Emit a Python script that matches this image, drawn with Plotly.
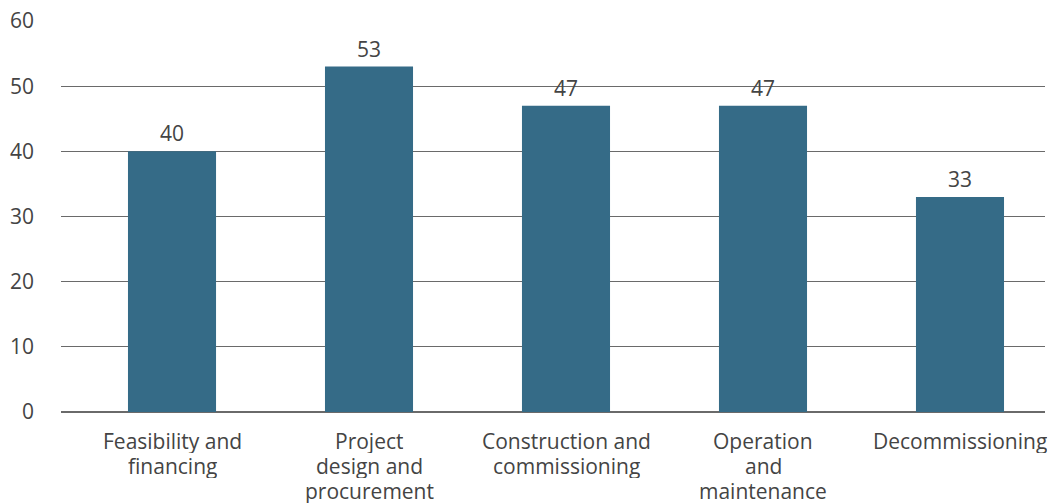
import plotly.graph_objects as go

# Project lifecycle stages and their values
stages = [
    "Feasibility and<br>financing",
    "Project<br>design and<br>procurement",
    "Construction and<br>commissioning",
    "Operation<br>and<br>maintenance",
    "Decommissioning",
]
values = [40, 53, 47, 47, 33]
y_ticks = [0, 10, 20, 30, 40, 50, 60]

BAR_COLOR = "#356b87"
TEXT_COLOR = "#444444"
GRID_COLOR = "#6a6a6a"
FONT = "Open Sans"
LINE_GAP = 25  # pixel spacing between lines of a category label

fig = go.Figure()
fig.add_trace(go.Bar(
    x=list(range(len(stages))),
    y=values,
    marker=dict(color=BAR_COLOR, line=dict(width=0)),
    width=0.447,
    hoverinfo="skip",
))

# value labels above bars
for i, v in enumerate(values):
    fig.add_annotation(
        x=i, y=v, text=str(v), showarrow=False,
        yanchor="bottom", yshift=2,
        font=dict(family=FONT, size=21, color=TEXT_COLOR),
    )

# category labels under the axis, one annotation per line
for i, label in enumerate(stages):
    for k, line in enumerate(label.split("<br>")):
        fig.add_annotation(
            x=i, xref="x", y=0, yref="paper",
            text=line, showarrow=False,
            yanchor="middle", yshift=-29 - k * LINE_GAP,
            height=24, borderpad=0, valign="middle",
            font=dict(family=FONT, size=21, color=TEXT_COLOR),
        )

fig.update_layout(
    width=1049, height=503,
    margin=dict(l=61, r=4, t=21, b=91),
    paper_bgcolor="white", plot_bgcolor="white",
    showlegend=False,
    font=dict(family=FONT, size=21, color=TEXT_COLOR),
    xaxis=dict(
        tickmode="array",
        tickvals=list(range(len(stages))),
        showticklabels=False,
        range=[-0.5635, 4.4315],
        showgrid=False, zeroline=False, showline=False,
        ticks="", automargin=False,
    ),
    yaxis=dict(
        range=[0, 60],
        tickmode="array", tickvals=y_ticks,
        showgrid=True, gridcolor=GRID_COLOR, gridwidth=1,
        zeroline=True, zerolinecolor=GRID_COLOR, zerolinewidth=2,
        showline=False, ticks="", automargin=False,
        ticklabelstandoff=26,
        tickfont=dict(family=FONT, size=21, color=TEXT_COLOR),
    ),
)

fig.write_html("out.html")
